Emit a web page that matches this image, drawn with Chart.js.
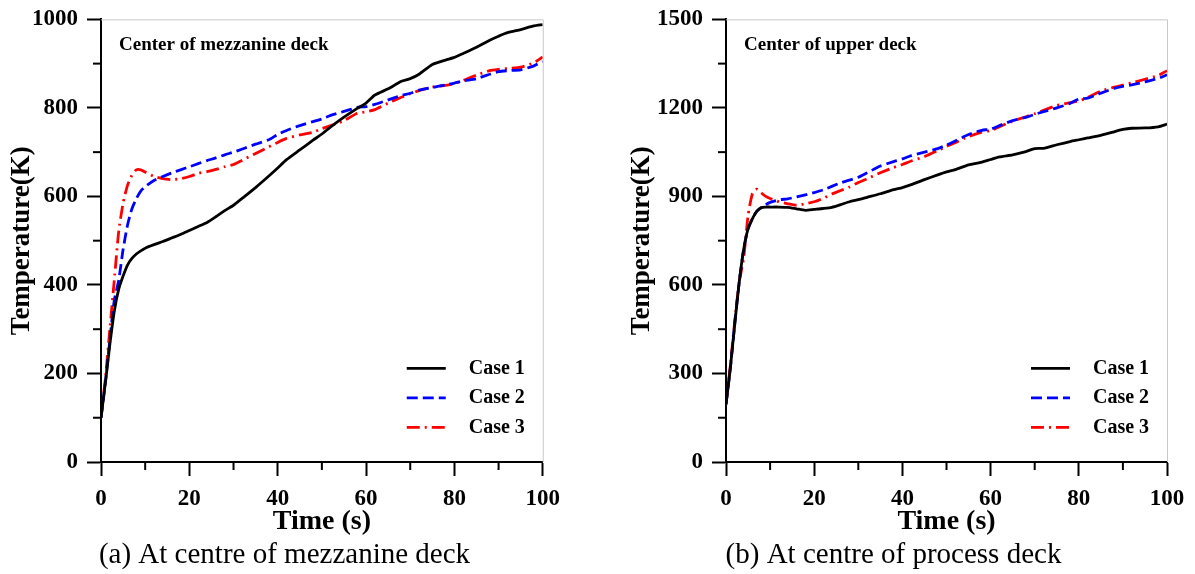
<!DOCTYPE html>
<html>
<head>
<meta charset="utf-8">
<script src="https://cdn.jsdelivr.net/npm/chart.js@4.4.1/dist/chart.umd.min.js"></script>
<style>
  body { margin: 0; background: #fff; }
  #wrap { position: relative; width: 1195px; height: 574px; }
  #chartA { position: absolute; left: 0; top: 0; }
  #chartB { position: absolute; left: 620px; top: 0; }
</style>
</head>
<body>
<div id="wrap">
  <canvas id="chartA" width="569" height="574"></canvas>
  <canvas id="chartB" width="575" height="574"></canvas>
</div>
<script>
const serif = '"Liberation Serif", "Times New Roman", serif';

// time (s)
const timeSec = [0,1,2,3,4,5,6,7,8,9,10,12,14,16,18,20,22,24,26,28,30,32,35,38,40,42,45,48,50,52,55,58,60,62,65,68,70,72,75,78,80,82,85,88,90,92,95,98,100];

// (a) centre of mezzanine deck, temperature (K)
const mezzCase1 = [100,180,265,340,390,420,445,460,470,477,483, 491,498,506,514,523,532,541,554,568,580,596, 620,646,664,683,705,727,741,757,779,799,811,829,843,860,866,876,898,908,914,923,937,953,962,970,977,985,988];
const mezzCase2 = [100,180,275,365,410,480,535,572,595,612,622, 636,645,653,660,667,674,681,687,694,700,707, 718,728,740,749,760,769,775,783,792,801,803,808,818,828,833,840,846,852,856,861,866,876,882,884,886,895,905];
const mezzCase3 = [100,190,300,410,520,585,625,648,660,660,655, 645,640,638,640,645,652,656,661,667,672,682, 697,712,722,731,739,745,753,760,771,788,791,796,811,824,832,839,847,851,855,862,874,884,887,889,892,902,915];

// (b) centre of process (upper) deck, temperature (K)
const upperCase1 = [195,320,470,610,720,790,825,850,862,864,864, 864,863,858,853,856,859,863,872,882,889,897, 909,923,930,940,957,973,983,991,1007,1016,1025,1034,1041,1052,1062,1063,1075,1086,1092,1098,1107,1119,1127,1131,1132,1136,1145];
const upperCase2 = [195,320,470,610,720,790,825,850,862,872,880, 888,892,898,905,913,922,934,946,955,965,980, 1003,1018,1027,1038,1050,1062,1074,1088,1110,1124,1128,1140,1157,1168,1178,1187,1200,1215,1230,1233,1250,1266,1273,1278,1288,1300,1312];
const upperCase3 = [195,330,480,610,690,835,910,925,912,900,893, 882,875,870,875,882,893,908,920,932,947,960, 980,998,1008,1020,1035,1055,1070,1082,1103,1118,1123,1136,1155,1170,1180,1192,1208,1218,1223,1235,1257,1270,1277,1285,1297,1310,1326];

const caseNames = ['Case 1', 'Case 2', 'Case 3'];

function pts(values) {
  return values.map((v, i) => ({ x: timeSec[i], y: v }));
}

function line(ctx, x1, y1, x2, y2) {
  ctx.beginPath();
  ctx.moveTo(x1, y1);
  ctx.lineTo(x2, y2);
  ctx.stroke();
}

// frame, minor ticks, note text and legend inside the plot
const deckDecor = {
  id: 'deckDecor',
  afterDraw(chart, args, opts) {
    const { ctx, chartArea: a, scales } = chart;
    ctx.save();
    ctx.strokeStyle = '#c8c8c8';
    ctx.lineWidth = 1;
    ctx.beginPath();
    ctx.moveTo(a.left, a.top + 0.5);
    ctx.lineTo(a.right + 0.5, a.top + 0.5);
    ctx.lineTo(a.right + 0.5, a.bottom);
    ctx.stroke();

    ctx.strokeStyle = '#000';
    ctx.lineWidth = 2;
    scales.y.ticks.forEach(t => {
      if (t.value % opts.yMajor !== 0) {
        const py = scales.y.getPixelForValue(t.value);
        line(ctx, a.left - 8, py, a.left, py);
      }
    });
    scales.x.ticks.forEach(t => {
      if (t.value % 20 !== 0) {
        const px = scales.x.getPixelForValue(t.value);
        line(ctx, px, a.bottom, px, a.bottom + 8);
      }
    });

    ctx.fillStyle = '#000';
    ctx.textBaseline = 'middle';
    ctx.textAlign = 'left';
    ctx.font = 'bold 19px ' + serif;
    ctx.fillText(opts.note, a.left + 18, a.top + 26);

    ctx.font = 'bold 20px ' + serif;
    chart.data.datasets.forEach((ds, i) => {
      const y = a.top + 349 + i * 29.5;
      ctx.strokeStyle = ds.borderColor;
      ctx.lineWidth = ds.borderWidth;
      ctx.setLineDash(ds.borderDash || []);
      line(ctx, a.right - 136, y, a.right - 97, y);
      ctx.setLineDash([]);
      ctx.fillText(ds.label, a.right - 74, y);
    });
    ctx.restore();
  }
};

function makeChart(id, series, yMax, yStep, yMajor, note, caption, leftWidth, rightPad) {
  return new Chart(document.getElementById(id), {
    type: 'line',
    data: {
      datasets: [
        { label: caseNames[0], data: pts(series[0]), borderColor: '#000000', borderWidth: 2.8, borderDash: [] },
        { label: caseNames[1], data: pts(series[1]), borderColor: '#0000ff', borderWidth: 2.8, borderDash: [11, 5] },
        { label: caseNames[2], data: pts(series[2]), borderColor: '#ff0000', borderWidth: 2.8, borderDash: [13, 5, 2, 5] }
      ]
    },
    options: {
      responsive: false,
      animation: false,
      layout: { padding: { top: 16, right: rightPad, left: 0, bottom: 4 } },
      elements: { point: { radius: 0 }, line: { tension: 0.2 } },
      plugins: {
        legend: { display: false },
        tooltip: { enabled: false },
        title: {
          display: true,
          position: 'bottom',
          text: caption,
          color: '#000',
          padding: 0,
          font: { family: serif, size: 29, weight: 'normal', lineHeight: 1.0 }
        },
        deckDecor: { note: note, yMajor: yMajor }
      },
      scales: {
        x: {
          type: 'linear',
          min: 0,
          max: 100,
          afterFit: s => { s.height = 79; },
          border: { color: '#000', width: 2 },
          grid: {
            drawOnChartArea: false,
            tickLength: 14,
            tickWidth: 2,
            tickColor: c => (c.tick && c.tick.value % 20 === 0) ? '#000' : 'rgba(0,0,0,0)'
          },
          ticks: {
            stepSize: 10,
            autoSkip: false,
            maxRotation: 0,
            padding: 9,
            color: '#000',
            font: { family: serif, size: 23, weight: 'bold' },
            callback: v => v % 20 === 0 ? v : ''
          },
          title: {
            display: true,
            text: 'Time (s)',
            color: '#000',
            padding: { top: 0, bottom: 5 },
            font: { family: serif, size: 28, weight: 'bold', lineHeight: 1.0 }
          }
        },
        y: {
          min: 0,
          max: yMax,
          afterFit: s => { s.width = leftWidth; },
          border: { color: '#000', width: 2 },
          grid: {
            drawOnChartArea: false,
            tickLength: 14,
            tickWidth: 2,
            tickColor: c => (c.tick && c.tick.value % yMajor === 0) ? '#000' : 'rgba(0,0,0,0)'
          },
          ticks: {
            stepSize: yStep,
            autoSkip: false,
            padding: 9,
            color: '#000',
            font: { family: serif, size: 23, weight: 'bold', lineHeight: 0.9 },
            callback: v => v % yMajor === 0 ? v : ''
          },
          title: {
            display: true,
            text: 'Temperature(K)',
            color: '#000',
            padding: { top: 9, bottom: 0 },
            font: { family: serif, size: 27, weight: 'bold', lineHeight: 1.0 }
          }
        }
      }
    },
    plugins: [deckDecor]
  });
}

makeChart('chartA', [mezzCase1, mezzCase2, mezzCase3], 1000, 100, 200,
  'Center of mezzanine deck', '(a) At centre of mezzanine deck', 101, 0);
makeChart('chartB', [upperCase1, upperCase2, upperCase3], 1500, 150, 300,
  'Center of upper deck', '(b) At centre of process deck', 106, 28);
</script>
</body>
</html>
